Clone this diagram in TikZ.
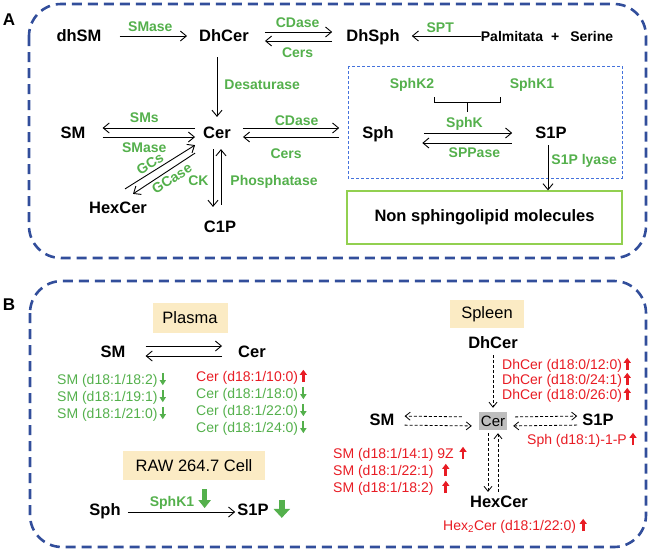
\documentclass[tikz,border=0pt]{standalone}
\usepackage{fontspec}
\setmainfont{Liberation Sans}
\usetikzlibrary{arrows.meta,positioning}
\definecolor{enzyme}{RGB}{84,176,76}
\definecolor{uprise}{RGB}{232,28,36}
\definecolor{frame}{RGB}{50,78,155}
\definecolor{subframe}{RGB}{68,114,220}
\definecolor{outbox}{RGB}{146,208,80}
\definecolor{tissue}{RGB}{251,235,196}
\definecolor{hub}{RGB}{190,190,190}

\begin{document}
\begin{tikzpicture}[x=1pt, y=-1pt,
    lipid/.style={font=\bfseries\fontsize{16.5}{18}\selectfont, inner sep=0pt, text height=11.8pt, text depth=0pt},
    enz/.style={font=\bfseries\fontsize{14}{16}\selectfont, text=enzyme, inner sep=0pt, text height=10pt, text depth=0pt},
    rx/.style={-{Straight Barb[length=6pt,width=10pt]}, line width=0.9pt},
    drx/.style={-{Straight Barb[length=5pt,width=8pt]}, line width=0.8pt, dash pattern=on 3pt off 2pt},
    panel/.style={draw=frame, line width=2.6pt, dash pattern=on 10pt off 6pt, rounded corners=32pt},
    tag/.style={fill=tissue, font=\fontsize{16.5}{18}\selectfont, inner sep=0pt},
    hit/.style={font=\fontsize{14}{16}\selectfont, inner sep=0pt, anchor=west, text height=10pt, text depth=0pt},
    upmk/.style={uprise, line width=2.6pt, -{Triangle[width=7pt,length=5pt]}},
    dnmk/.style={enzyme, line width=2.2pt, -{Triangle[width=6pt,length=5pt]}}]
    \useasboundingbox (0,0) rectangle (650,550);

    % 面板
    \draw[panel] (29,4) rectangle (646,258);
    \draw[panel] (30,281) rectangle (646,547);
    \node[font=\bfseries\fontsize{17}{18}\selectfont] (pa) at (9,20) {A};
    \node[font=\bfseries\fontsize{17}{18}\selectfont] (pb) at (9,305) {B};

    % A: 代谢物
    \node[lipid] (dhsm) at (79,36) {dhSM};
    \node[lipid] (dhcer) at (224,36) {DhCer};
    \node[lipid] (dhsph) at (373,36) {DhSph};
    \node[lipid, font=\bfseries\fontsize{14}{16}\selectfont, text height=10pt] (palm) at (547,36) {Palmitata\hspace{8pt}+\hspace{11pt}Serine};
    \node[lipid] (sm) at (73,133) {SM};
    \node[lipid] (cer) at (217,133) {Cer};
    \node[lipid] (sph) at (378,133) {Sph};
    \node[lipid] (s1p) at (551,133) {S1P};
    \node[lipid] (hexcer) at (118,208) {HexCer};
    \node[lipid] (c1p) at (220,227) {C1P};
    \node[enz] (sphk2) at (412,83) {SphK2};
    \node[enz] (sphk1) at (532,83) {SphK1};
    \draw[subframe, line width=0.9pt, dash pattern=on 3pt off 2pt] (348,66) rectangle (622,178);
    \node[draw=outbox, line width=1.3pt, minimum width=275pt, minimum height=53pt, inner sep=0pt,
        font=\bfseries\fontsize{16.5}{18}\selectfont] (nonsph) at (484.5,217.5) {Non sphingolipid molecules};

    % A: 反应
    \draw[rx, shorten <=18pt, shorten >=12pt] (dhsm) -- node[enz, above=4pt] (smase1) {SMase} (dhcer);
    \draw[rx, shorten <=16pt, shorten >=14pt] ([yshift=4pt]dhcer.east) -- node[enz, above=4pt] (cdase1) {CDase} ([yshift=4pt]dhsph.west);
    \draw[rx, shorten <=14pt, shorten >=16pt] ([yshift=-5pt]dhsph.west) -- node[enz, below=6pt] (cers1) {Cers} ([yshift=-5pt]dhcer.east);
    \draw[rx, shorten >=12pt] (palm) -- node[enz, above=3pt] (spt) {SPT} (dhsph);
    \draw[rx, shorten <=15pt, shorten >=10pt] (dhcer.south -| cer.north) -- node[enz, right=7pt] (desat) {Desaturase} (cer.north);

    \draw[rx, shorten <=8pt, shorten >=17pt] ([yshift=5pt]cer.west) -- node[enz, above=5pt] (sms) {SMs} ([yshift=5pt]sm.east);
    \draw[rx, shorten <=17pt, shorten >=8pt] ([yshift=-4pt]sm.east) -- node[enz, below=5pt] (smase2) {SMase} ([yshift=-4pt]cer.west);
    \draw[rx, shorten <=12pt, shorten >=23pt] ([yshift=5pt]cer.east) -- node[enz, above=2pt] (cdase2) {CDase} ([yshift=5pt]sph.west);
    \draw[rx, shorten <=23pt, shorten >=12pt] ([yshift=-4pt]sph.west) -- node[enz, below=11pt, pos=0.58] (cers2) {Cers} ([yshift=-4pt]cer.east);
    \draw[rx, shorten <=30pt, shorten >=23pt] (sph.east) -- node[enz, above=5pt] (sphk) {SphK} (s1p.west);
    \draw[rx, shorten <=23.5pt, shorten >=28.5pt] ([yshift=-10pt]s1p.west) -- node[enz, below=4pt, pos=0.43] (sppase) {SPPase} ([yshift=-10pt]sph.east);
    \draw[line width=0.9pt] (434,97) -- (434,102) -- (500,102) -- (500,97);
    \draw[line width=0.9pt] (467,102) -- (467,112);

    \draw[rx] ([xshift=7pt,yshift=13pt]hexcer.north) -- node[enz, sloped, above=3pt, pos=0.42] (gcs) {GCs} ([xshift=-8pt,yshift=-6pt]cer.south west);
    \draw[rx] ([xshift=-8pt,yshift=-14pt]cer.south west) -- node[enz, sloped, below=3pt, pos=0.45] (gcase) {GCase} ([xshift=15pt,yshift=8pt]hexcer.north);

    \coordinate (ckt) at ([xshift=-4pt]cer.south);
    \coordinate (pht) at ([xshift=4pt]cer.south);
    \draw[rx, shorten <=10pt, shorten >=14pt] (ckt) -- node[enz, left=4pt] (ck) {CK} (ckt |- c1p.north);
    \draw[rx, shorten <=16pt, shorten >=10pt] (pht |- c1p.north) -- node[enz, right=9pt] (phos) {Phosphatase} (pht);

    \coordinate (lyt) at ([xshift=-3pt]s1p.south);
    \draw[rx, shorten <=6pt] (lyt) -- node[enz, right=3pt, pos=0.4] (lyase) {S1P lyase} (lyt |- nonsph.north);

    % B: Plasma
    \node[tag, minimum width=75pt, minimum height=30pt] (plasma) at (190,318) {Plasma};
    \node[lipid] (smp) at (113,352) {SM};
    \node[lipid] (cerp) at (252,352) {Cer};
    \draw[rx, shorten <=20pt, shorten >=16pt] ([yshift=6pt]smp.east) -- ([yshift=6pt]cerp.west);
    \draw[rx, shorten <=16pt, shorten >=20pt] ([yshift=-4pt]cerp.west) -- ([yshift=-4pt]smp.east);
    \node[hit, text=enzyme] (smp1) at (57,379) {SM (d18:1/18:2)};
    \node[hit, text=enzyme] (smp2) at (57,396) {SM (d18:1/19:1)};
    \node[hit, text=enzyme] (smp3) at (57,413) {SM (d18:1/21:0)};
    \node[hit, text=uprise] (cerp1) at (196,376) {Cer (d18:1/10:0)};
    \node[hit, text=enzyme] (cerp2) at (196,393) {Cer (d18:1/18:0)};
    \node[hit, text=enzyme] (cerp3) at (196,410) {Cer (d18:1/22:0)};
    \node[hit, text=enzyme] (cerp4) at (196,427) {Cer (d18:1/24:0)};
    \foreach \n in {smp1,smp2,smp3,cerp2,cerp3,cerp4}
        \draw[dnmk] ([xshift=5pt,yshift=1pt]\n.north east) -- ([xshift=5pt,yshift=-1pt]\n.south east);
    \draw[upmk] ([xshift=5pt,yshift=-1pt]cerp1.south east) -- ([xshift=5pt,yshift=1pt]cerp1.north east);

    % B: RAW 264.7
    \node[tag, minimum width=142pt, minimum height=29pt] (raw) at (194,465.5) {RAW 264.7 Cell};
    \node[lipid] (sphr) at (105,510) {Sph};
    \node[lipid] (s1pr) at (253,510) {S1P};
    \draw[rx, shorten <=7pt, shorten >=2pt] ([yshift=-2pt]sphr.east) -- node[enz, above=5pt, pos=0.44] (sphk1r) {SphK1} ([yshift=-2pt]s1pr.west);
    \draw[enzyme, line width=4.5pt, -{Triangle[width=12pt,length=8pt]}] ([xshift=10pt,yshift=7pt]sphk1r.north east) -- ++(0,19);
    \draw[enzyme, line width=6.5pt, -{Triangle[width=16pt,length=9pt]}] ([xshift=13pt,yshift=4pt]s1pr.north east) -- ++(0,18);

    % B: Spleen
    \node[tag, minimum width=74pt, minimum height=28pt] (spleen) at (487,314) {Spleen};
    \node[lipid] (spdhcer) at (493,343) {DhCer};
    \node[fill=hub, font=\fontsize{15}{16}\selectfont, minimum width=28pt, minimum height=18pt, inner sep=0pt] (spcer) at (493,421) {Cer};
    \node[lipid] (spsm) at (382,420) {SM};
    \node[lipid] (sps1p) at (598,420) {S1P};
    \node[lipid] (sphex) at (499,502) {HexCer};
    \draw[drx, shorten <=6pt, shorten >=4pt] (spdhcer.south -| spcer.north) -- (spcer.north);
    \draw[drx, shorten <=17pt, shorten >=10pt] ([yshift=4pt]spcer.west) -- ([yshift=4pt]spsm.east);
    \draw[drx, shorten <=10pt, shorten >=7pt] ([yshift=-5pt]spsm.east) -- ([yshift=-5pt]spcer.west);
    \draw[drx, shorten <=8pt, shorten >=5pt] ([yshift=4pt]spcer.east) -- ([yshift=4pt]sps1p.west);
    \draw[drx, shorten <=5pt, shorten >=6pt] ([yshift=-5pt]sps1p.west) -- ([yshift=-5pt]spcer.east);
    \coordinate (hxd) at ([xshift=-5pt]spcer.south);
    \coordinate (hxu) at ([xshift=5pt]spcer.south);
    \draw[drx, shorten <=3pt, shorten >=4pt] (hxd) -- (hxd |- sphex.north);
    \draw[drx, shorten <=4pt, shorten >=3pt] (hxu |- sphex.north) -- (hxu);

    \node[hit, text=uprise] (spdh1) at (502,364) {DhCer (d18:0/12:0)};
    \node[hit, text=uprise] (spdh2) at (502,379) {DhCer (d18:0/24:1)};
    \node[hit, text=uprise] (spdh3) at (502,394) {DhCer (d18:0/26:0)};
    \node[hit, text=uprise] (sps1) at (527,439) {Sph (d18:1)-1-P};
    \node[hit, text=uprise] (spsm1) at (333,453) {SM (d18:1/14:1) 9Z};
    \node[hit, text=uprise] (spsm2) at (333,470) {SM (d18:1/22:1)};
    \node[hit, text=uprise] (spsm3) at (333,487) {SM (d18:1/18:2)};
    \node[hit, text=uprise] (sphx1) at (443,525) {Hex\textsubscript{2}Cer (d18:1/22:0)};
    \foreach \n/\g in {spdh1/5,spdh2/5,spdh3/5,sps1/6,spsm1/9,spsm2/12,spsm3/12,sphx1/7}
        \draw[upmk] ([xshift=\g pt,yshift=-1pt]\n.south east) -- ([xshift=\g pt,yshift=1pt]\n.north east);
\end{tikzpicture}
\end{document}
